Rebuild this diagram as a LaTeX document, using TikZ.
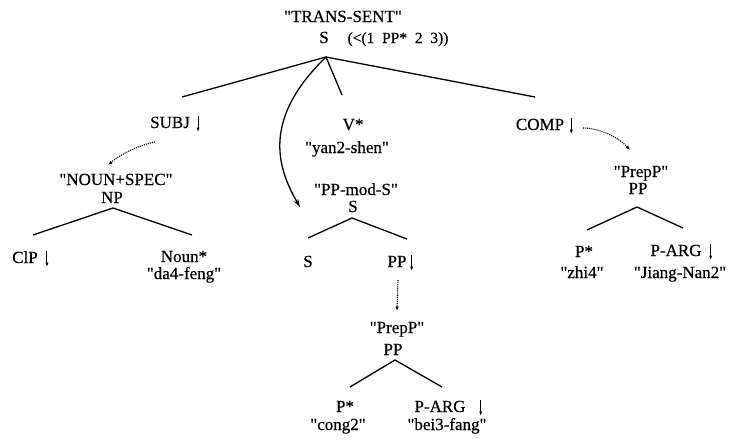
\documentclass[tikz,border=0pt]{standalone}
\usepackage{fontspec}
\setmainfont{Liberation Serif}[FakeBold=0.5]
\usetikzlibrary{arrows.meta}

% straight double quotes round a feature-structure name
\newcommand{\qt}[1]{\textquotedbl#1\textquotedbl}

% small downward arrow placed after a label (substitution marker)
\newcommand{\downmark}[2]{%
  \draw[darr] ([xshift=#2,yshift=12pt]#1.base east) -- ([xshift=#2,yshift=-4pt]#1.base east);}

\begin{document}
\begin{tikzpicture}[x=1pt,y=-1pt,
  lbl/.style={inner sep=0pt,anchor=base,font=\fontsize{17}{20}\selectfont},
  cons/.style={inner sep=0pt,anchor=base,font=\fontsize{15.5}{18}\selectfont},
  branch/.style={line width=1.3pt},
  darr/.style={line width=1pt,-{Latex[length=4.5pt,width=3.2pt]}},
  subst/.style={line width=1.1pt,densely dotted,-{Latex[length=4.5pt,width=3.5pt]}},
  adjoin/.style={line width=1.3pt,-{Stealth[length=8pt,width=5pt]}}]
\useasboundingbox (0,0) rectangle (731,442);

% ---------- root tree ----------
\node[lbl] (trans) at (343,22) {\qt{TRANS-SENT}};
\node[lbl] (rootS) at (324,43) {S};
\node[cons] (rootC) at (398,43) {(<(1\ \ PP*\ \ 2\ \ 3))};

\node[lbl] (subj)  at (170,128) {SUBJ};
\node[lbl] (vstar) at (353,130) {V*};
\node[lbl] (yan)   at (347,153) {\qt{yan2-shen}};
\node[lbl] (comp)  at (540,130) {COMP};
\downmark{subj}{8pt}
\downmark{comp}{7pt}

\coordinate (rA) at (326,57);
\coordinate (rSubj) at (182,97);
\coordinate (rV) at (342,95);
\coordinate (rComp) at (535,97);
\coordinate (rFoot) at (300,207);
\draw[branch] (rSubj) -- (rA) -- (rV);
\draw[branch] (rA) -- (rComp);
\draw[adjoin] (rA) .. controls (263,118) and (276,166) .. (rFoot);

% ---------- NP tree ----------
\node[lbl] (nounspec) at (116,185) {\qt{NOUN+SPEC}};
\node[lbl] (np)   at (112,203) {NP};
\node[lbl] (clp)  at (25,263) {ClP};
\node[lbl] (noun) at (184,262) {Noun*};
\node[lbl] (dafeng) at (184,279) {\qt{da4-feng}};
\downmark{clp}{9pt}

\coordinate (npA) at (113,208);
\coordinate (npL) at (33,235);
\coordinate (npR) at (192,235);
\draw[branch] (npL) -- (npA) -- (npR);

\coordinate (sT) at (155,142);
\coordinate (sH) at (108,165);
\draw[subst] (sT) .. controls (140,145) and (122,153) .. (sH);

% ---------- PP-mod-S auxiliary tree ----------
\node[lbl] (ppmods) at (356,195) {\qt{PP-mod-S}};
\node[lbl] (midS)  at (353,212) {S};
\node[lbl] (leafS) at (308,267) {S};
\node[lbl] (pp1)   at (397,267) {PP};
\downmark{pp1}{5pt}

\coordinate (mA) at (352,218);
\coordinate (mL) at (308,238);
\coordinate (mR) at (407,239);
\draw[branch] (mL) -- (mA) -- (mR);

\coordinate (vT) at (398,280);
\coordinate (vH) at (397,311);
\draw[subst] (vT) -- (vH);

% ---------- lower PrepP tree ----------
\node[lbl] (prep1) at (397,333) {\qt{PrepP}};
\node[lbl] (pp2)   at (393,355) {PP};
\node[lbl] (pstar1) at (345,412) {P*};
\node[lbl] (parg1)  at (440,412) {P-ARG};
\node[lbl] (cong)   at (338,430) {\qt{cong2}};
\node[lbl] (bei)    at (447,430) {\qt{bei3-fang}};
\downmark{parg1}{15pt}

\coordinate (lA) at (395,360);
\coordinate (lL) at (350,387);
\coordinate (lR) at (442,387);
\draw[branch] (lL) -- (lA) -- (lR);

% ---------- right PrepP tree ----------
\node[lbl] (prep2) at (641,177) {\qt{PrepP}};
\node[lbl] (pp3)   at (638,194) {PP};
\node[lbl] (pstar2) at (584,257) {P*};
\node[lbl] (parg2)  at (676,256) {P-ARG};
\node[lbl] (zhi)    at (582,278) {\qt{zhi4}};
\node[lbl] (jiang)  at (680,278) {\qt{Jiang-Nan2}};
\downmark{parg2}{9pt}

\coordinate (qA) at (637,207);
\coordinate (qL) at (587,230);
\coordinate (qR) at (683,228);
\draw[branch] (qL) -- (qA) -- (qR);

\coordinate (cT) at (583,128);
\coordinate (cH) at (630,150);
\draw[subst] (cT) .. controls (598,128) and (617,136) .. (cH);
\end{tikzpicture}
\end{document}
